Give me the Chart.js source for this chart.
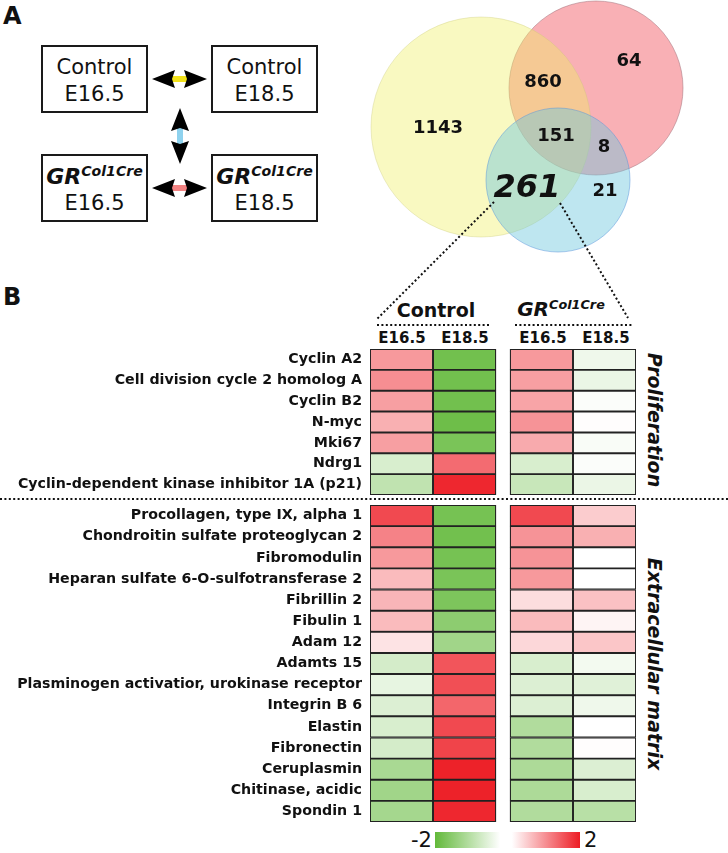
<!DOCTYPE html>
<html>
<head>
<meta charset="utf-8">
<script src="https://cdn.jsdelivr.net/npm/chart.js@4.4.1/dist/chart.umd.min.js"></script>
<style>
  body { margin: 0; background: #fff; font-family: "DejaVu Sans", sans-serif; color: #111; }
  #page { position: relative; width: 728px; height: 853px; overflow: hidden; }
  .abs { position: absolute; white-space: nowrap; line-height: 1; }
  .c { transform: translate(-50%, -50%); }
  .box { position: absolute; width: 107px; height: 68px; border: 2px solid #1a1a1a; box-sizing: border-box; background: #fff; }
  .box .abs { left: 50%; font-size: 21px; }
  .gr { font-weight: bold; font-style: italic; }
  .gr sup { font-size: 0.64em; vertical-align: 0.55em; }
  .side { writing-mode: vertical-rl; font-weight: bold; font-style: italic; font-size: 19px; }
  canvas { position: absolute; }
  svg { position: absolute; left: 0; top: 0; }
</style>
</head>
<body>
<div id="page">
  <div class="abs" style="left:3px;top:4px;font-size:24px;font-weight:bold;">A</div>
  <div class="abs" style="left:3px;top:285px;font-size:24px;font-weight:bold;">B</div>

  <div class="box" style="left:41px;top:45px;">
    <div class="abs c" style="top:20px;">Control</div>
    <div class="abs c" style="top:47px;">E16.5</div>
  </div>
  <div class="box" style="left:211px;top:45px;">
    <div class="abs c" style="top:20px;">Control</div>
    <div class="abs c" style="top:47px;">E18.5</div>
  </div>
  <div class="box" style="left:41px;top:154px;">
    <div class="abs c gr" style="top:20px;font-size:22px;">GR<sup>Col1Cre</sup></div>
    <div class="abs c" style="top:47px;">E16.5</div>
  </div>
  <div class="box" style="left:211px;top:154px;">
    <div class="abs c gr" style="top:20px;font-size:22px;">GR<sup>Col1Cre</sup></div>
    <div class="abs c" style="top:47px;">E18.5</div>
  </div>

  <canvas id="venn" width="368" height="260" style="left:360px;top:0px;"></canvas>

  <div class="abs c" style="left:436px;top:310px;font-size:19px;font-weight:bold;">Control</div>
  <div class="abs c gr" style="left:561px;top:309px;font-size:20px;">GR<sup>Col1Cre</sup></div>
  <div class="abs c" style="left:402px;top:338px;font-size:15px;font-weight:bold;">E16.5</div>
  <div class="abs c" style="left:465px;top:338px;font-size:15px;font-weight:bold;">E18.5</div>
  <div class="abs c" style="left:543px;top:338px;font-size:15px;font-weight:bold;">E16.5</div>
  <div class="abs c" style="left:606px;top:338px;font-size:15px;font-weight:bold;">E18.5</div>

  <canvas id="prolif" width="638" height="148" style="left:0px;top:348px;"></canvas>
  <canvas id="ecm" width="638" height="319" style="left:0px;top:504px;"></canvas>

  <div class="abs c side" style="left:654px;top:420px;">Proliferation</div>
  <div class="abs c side" style="left:654px;top:664px;">Extracellular matrix</div>

  <div class="abs" style="left:411px;top:830px;font-size:21px;">-2</div>
  <div class="abs" style="left:435px;top:832px;width:145px;height:16px;background:linear-gradient(to right, rgb(98,185,58) 0%, #fff 45%, #fff 53%, rgb(237,28,36) 100%);"></div>
  <div class="abs" style="left:584px;top:830px;font-size:21px;">2</div>

  <svg width="728" height="853" id="overlay">
    <g stroke="#111" stroke-width="2" stroke-dasharray="2 2.4" fill="none">
      <line x1="494" y1="202" x2="377" y2="319"/>
      <line x1="560" y1="203" x2="628" y2="318"/>
      <line x1="377" y1="325" x2="491" y2="325"/>
      <line x1="515" y1="325" x2="633" y2="325"/>
      <line x1="0" y1="499" x2="728" y2="499"/>
    </g>
    <rect x="171" y="76" width="18" height="6" fill="#f2e21a"/>
    <path d="M152,79 L175,70 L172,79 L175,88 Z M207,79 L184,70 L187,79 L184,88 Z" fill="#000"/>
    <rect x="177" y="128" width="6" height="17" fill="#8fd2ee"/>
    <path d="M180,108 L171,131 L180,128 L189,131 Z M180,164 L171,141 L180,144 L189,141 Z" fill="#000"/>
    <rect x="171" y="185" width="18" height="6" fill="#f28282"/>
    <path d="M152,188 L175,179 L172,188 L175,197 Z M207,188 L184,179 L187,188 L184,197 Z" fill="#000"/>
  </svg>
</div>

<script>
Chart.defaults.font.family = "'DejaVu Sans', sans-serif";
Chart.defaults.color = "#111";

// Venn diagram: region counts
var vennCounts = [1143, 860, 64, 151, 8, 21, 261];
var vennLabelX = [78, 183, 269, 196, 244, 245, 167];
var vennLabelY = [128, 82, 61, 136, 147, 191, 189];

// circles, top to bottom: Control vs GR (blue), Control (yellow), GR (red)
var vennCircleX = [198, 121, 236];
var vennCircleY = [180, 127, 88];
var vennCircleR = [72, 110, 87];

// heatmap
var columns = ["E16.5", "E18.5", "E16.5", "E18.5"];
var prolifGenes = ["Cyclin A2", "Cell division cycle 2 homolog A", "Cyclin B2", "N-myc", "Mki67", "Ndrg1",
  "Cyclin-dependent kinase inhibitor 1A (p21)"];
var prolifControlE165 = [0.9, 1.0, 0.85, 0.7, 0.85, -0.5, -0.8];
var prolifControlE185 = [-1.8, -1.8, -1.8, -1.85, -1.7, 1.3, 1.9];
var prolifGrE165 = [0.9, 0.85, 0.8, 0.95, 0.75, -0.5, -0.7];
var prolifGrE185 = [-0.2, -0.25, -0.05, 0.02, -0.08, -0.05, -0.25];

var ecmGenes = ["Procollagen, type IX, alpha 1", "Chondroitin sulfate proteoglycan 2", "Fibromodulin",
  "Heparan sulfate 6-O-sulfotransferase 2", "Fibrillin 2", "Fibulin 1", "Adam 12", "Adamts 15",
  "Plasminogen activatior, urokinase receptor", "Integrin B 6", "Elastin", "Fibronectin",
  "Ceruplasmin", "Chitinase, acidic", "Spondin 1"];
var ecmControlE165 = [1.6, 1.1, 0.9, 0.6, 0.65, 0.6, 0.25, -0.55, -0.3, -0.45, -0.5, -0.55, -1.1, -1.2, -1.15];
var ecmControlE185 = [-1.75, -1.8, -1.75, -1.7, -1.65, -1.45, -1.2, 1.5, 1.55, 1.35, 1.6, 1.65, 1.95, 1.95, 1.9];
var ecmGrE165 = [1.6, 0.95, 0.95, 0.9, 0.3, 0.6, 0.35, -0.5, -0.45, -0.45, -1.0, -1.0, -1.05, -1.05, -1.0];
var ecmGrE185 = [0.45, 0.7, 0.0, 0.0, 0.55, 0.1, 0.5, -0.15, -0.4, -0.2, 0.0, 0.02, -0.45, -0.5, -0.9];

var columnStart = [0, 1, 2.222, 3.222];

function heatColor(v) {
  var t = Math.min(Math.abs(v) / 2, 1);
  var end = v < 0 ? [98, 185, 58] : [237, 28, 36];
  var c = end.map(function (e) { return Math.round(255 + (e - 255) * t); });
  return "rgb(" + c.join(",") + ")";
}

var vennLabels = {
  id: "vennLabels",
  afterDatasetsDraw: function (chart) {
    var ctx = chart.ctx;
    var xs = chart.scales.x, ys = chart.scales.y;
    ctx.save();
    ctx.fillStyle = "#111";
    ctx.textAlign = "center";
    ctx.textBaseline = "middle";
    vennCounts.forEach(function (n, i) {
      ctx.font = n === 261 ? "italic bold 32px 'DejaVu Sans'" : "bold 18px 'DejaVu Sans'";
      ctx.fillText(String(n), xs.getPixelForValue(vennLabelX[i]), ys.getPixelForValue(vennLabelY[i]));
    });
    ctx.restore();
  }
};

var vennFill = ["rgba(111,199,222,0.45)", "rgba(240,240,100,0.4)", "rgba(242,80,92,0.45)"];
var vennEdge = ["rgba(90,150,220,0.5)", "rgba(200,200,120,0.35)", "rgba(160,110,120,0.5)"];
var vennBorder = 1;

// the bubble controller insets the chart area by the largest bubble on every side;
// choose the axis range so one axis unit is still one canvas pixel
var vennInset = Math.max.apply(null, vennCircleR) + vennBorder;

new Chart(document.getElementById("venn"), {
  type: "bubble",
  data: {
    datasets: vennCircleX.map(function (x, i) {
      return {
        data: [{ x: x, y: vennCircleY[i], r: vennCircleR[i] }],
        backgroundColor: vennFill[i],
        borderColor: vennEdge[i],
        borderWidth: vennBorder,
        clip: false,
      };
    }),
  },
  options: {
    responsive: false,
    animation: false,
    layout: { padding: 0 },
    plugins: { legend: { display: false }, tooltip: { enabled: false } },
    scales: {
      x: { type: "linear", min: vennInset, max: 368 - vennInset, display: false },
      y: { type: "linear", min: vennInset, max: 260 - vennInset, reverse: true, display: false },
    },
  },
  plugins: [vennLabels],
});

function makeHeatmap(canvasId, genes, cols) {
  var datasets = cols.map(function (vals, c) {
    return {
      label: columns[c],
      data: vals.map(function () { return [columnStart[c], columnStart[c] + 1]; }),
      backgroundColor: vals.map(heatColor),
      borderColor: "#222",
      borderWidth: 1.3,
      borderSkipped: false,
      grouped: false,
      barPercentage: 1,
      categoryPercentage: 1,
    };
  });

  new Chart(document.getElementById(canvasId), {
    type: "bar",
    data: { labels: genes, datasets: datasets },
    options: {
      indexAxis: "y",
      responsive: false,
      animation: false,
      layout: { padding: { top: 1, bottom: 1, right: 2, left: 0 } },
      plugins: { legend: { display: false }, tooltip: { enabled: false } },
      scales: {
        x: { type: "linear", min: 0, max: 4.222, display: false },
        y: {
          grid: { display: false, drawTicks: false },
          border: { display: false },
          ticks: {
            autoSkip: false,
            padding: 8,
            color: "#111",
            font: { size: 14.2, weight: "bold" },
          },
          afterFit: function (scale) {
            scale.width = 370;
            scale.paddingTop = 0;
            scale.paddingBottom = 0;
          },
        },
      },
    },
  });
}

makeHeatmap("prolif", prolifGenes, [prolifControlE165, prolifControlE185, prolifGrE165, prolifGrE185]);
makeHeatmap("ecm", ecmGenes, [ecmControlE165, ecmControlE185, ecmGrE165, ecmGrE185]);
</script>
</body>
</html>
